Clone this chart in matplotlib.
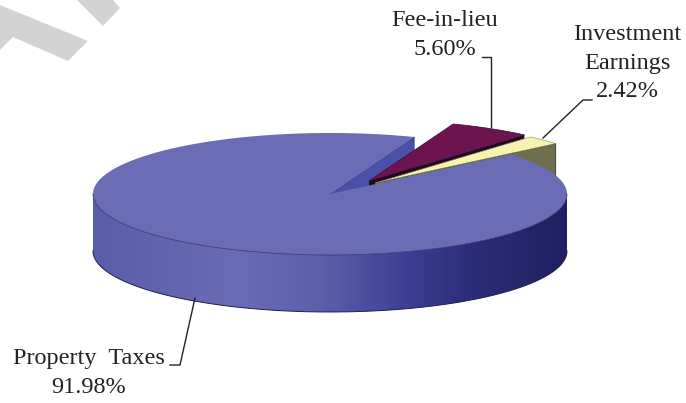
import numpy as np
import matplotlib.pyplot as plt
from matplotlib.patches import Polygon
from matplotlib.colors import LinearSegmentedColormap

# Pie shares in percent
categories = ["Property  Taxes", "Fee-in-lieu", "Investment\nEarnings"]
shares = [91.98, 5.60, 2.42]

START = 69.2
CX, CY, RX, RY = 330, 194, 237, 61
DEPTH = 57


def arc(a0, a1, dx=0, dy=0, n=200):
    t = np.radians(np.linspace(a0, a1, n))
    return np.column_stack([CX + dx + RX * np.cos(t), CY + dy - RY * np.sin(t)])


def wedge(a0, a1, dx=0, dy=0):
    return np.vstack([[CX + dx, CY + dy], arc(a0, a1, dx, dy)])


def cut_wall(angle, dx=0, dy=0):
    t = np.radians(angle)
    ax0, ay0 = CX + dx, CY + dy
    ax1, ay1 = ax0 + RX * np.cos(t), ay0 - RY * np.sin(t)
    return [(ax0, ay0), (ax1, ay1), (ax1, ay1 + DEPTH), (ax0, ay0 + DEPTH)]


sweep = np.array(shares) / 100 * 360
main_end = START + sweep[0]      # main slice runs counter-clockwise from the gap
fee_a0, fee_a1 = START - sweep[1], START
inv_a0, inv_a1 = fee_a0 - sweep[2], fee_a0

fig = plt.figure(figsize=(6.86, 4.03), dpi=100)
ax = fig.add_axes([0, 0, 1, 1])

# grey watermark pieces
ax.add_patch(Polygon([(0, 5), (88, 41), (68, 61), (13, 37), (0, 50)], fc="#d3d3d3", ec="none", zorder=1))
ax.add_patch(Polygon([(77, 0), (113, 0), (120, 8), (103, 26)], fc="#d3d3d3", ec="none", zorder=1))

# inner wall of the main slice, seen through the gap
ax.add_patch(Polygon(cut_wall(START), fc="#4a50a6", ec="#2a2c70", lw=0.5, zorder=2))

# fee slice
fdx, fdy = 39, -13
ax.add_patch(Polygon(cut_wall(fee_a0, fdx, fdy), fc="#230822", ec="none", zorder=3))
ax.add_patch(Polygon(wedge(fee_a0, fee_a1, fdx, fdy), fc="#6d1450", ec="#3a0a30", lw=0.5, zorder=4))

# investment slice
idx, idy = 45, -11
ax.add_patch(Polygon(cut_wall(inv_a0, idx, idy), fc="#6f6f4f", ec="#33331f", lw=0.6, zorder=5))
ax.add_patch(Polygon(wedge(inv_a0, inv_a1, idx, idy), fc="#f6f3b0", ec="#8a8a60", lw=0.4, zorder=6))

# main slice: gradient side wall then top face
front = arc(180, 360)
bottom = front + [0, DEPTH]
side = np.vstack([front, bottom[::-1]])
side_poly = Polygon(side, fc="none", ec="none", zorder=7)
ax.add_patch(side_poly)
cmap = LinearSegmentedColormap.from_list("rim", [
    (0.0, "#5a5da8"), (0.30, "#6a6cb5"), (0.48, "#5c60ab"), (0.66, "#3c3f95"),
    (0.80, "#2c2d78"), (1.0, "#1f2060")])
im = ax.imshow(np.linspace(0, 1, 256)[None, :], cmap=cmap, aspect="auto",
               extent=[CX - RX, CX + RX, 403, 0], zorder=7)
im.set_clip_path(side_poly)
ax.plot(bottom[:, 0], bottom[:, 1], color="#20204a", lw=0.7, zorder=8)
ax.add_patch(Polygon(wedge(START, main_end), fc="#6a6cb5", ec="none", zorder=9))
ax.plot(*arc(180, 360).T, color="#2a2c60", lw=0.5, zorder=10)

# leader lines
ax.plot([482, 491, 491], [57, 57, 127], color="#222222", lw=1, zorder=11)
ax.plot([592, 583, 543], [100, 100, 138], color="#222222", lw=1, zorder=11)
ax.plot([170, 180, 195], [365, 365, 298], color="#222222", lw=1, zorder=11)

# labels
txt = dict(family="Liberation Serif", fontsize=17.5, color="#222222", ha="center", va="center",
           linespacing=1.45, zorder=12)
ax.text(89, 373, f"{categories[0]}\n{shares[0]:.2f}%", **txt)
ax.text(445, 35, f"{categories[1]}\n{shares[1]:.2f}%", **txt)
ax.text(627, 63, f"{categories[2]}\n{shares[2]:.2f}%", **txt)

ax.set_xlim(0, 686)
ax.set_ylim(403, 0)
ax.axis("off")

fig.savefig("out.png", dpi=100)
